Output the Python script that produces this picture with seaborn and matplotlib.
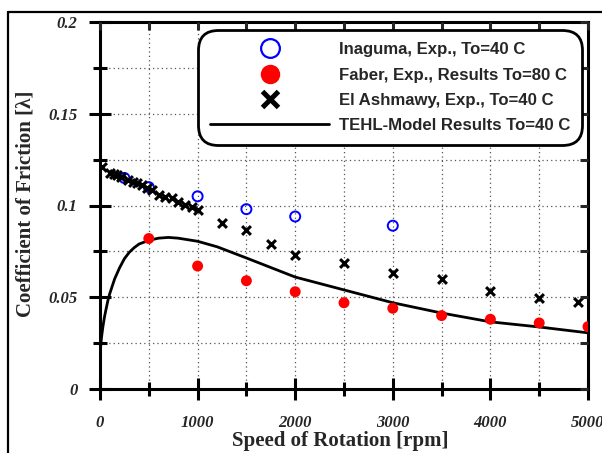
import numpy as np
import pandas as pd
import matplotlib
matplotlib.use("Agg")
import matplotlib.pyplot as plt
from matplotlib.lines import Line2D
import seaborn as sns

# ---- data ----
inaguma_rpm = [250, 500, 1000, 1500, 2000, 3000]
inaguma_cof = [0.115, 0.110, 0.105, 0.098, 0.094, 0.089]

faber_rpm = [500, 1000, 1500, 2000, 2500, 3000, 3500, 4000, 4500, 5000]
faber_cof = [0.082, 0.067, 0.059, 0.053, 0.047, 0.044, 0.040, 0.038, 0.036, 0.034]

ashmawy_rpm = [25, 100, 140, 170, 220, 290, 340, 380, 430, 480, 530, 600, 670,
               740, 800, 870, 940, 1000, 1250, 1500, 1750, 2000, 2500, 3000,
               3500, 4000, 4500, 4900]
ashmawy_cof = [0.121, 0.1175, 0.117, 0.1166, 0.1157, 0.1139, 0.113, 0.112,
               0.111, 0.1097, 0.1084, 0.1057, 0.1048, 0.1039, 0.102, 0.1003,
               0.0994, 0.0978, 0.0905, 0.0865, 0.079, 0.073, 0.0685, 0.063,
               0.0598, 0.0536, 0.0495, 0.0474]

tehl_rpm = [0, 5, 15, 30, 45, 60, 80, 100, 125, 150, 200, 250, 300, 350, 400,
            500, 600, 700, 800, 1000, 1200, 1500, 2000, 2500, 3000, 3500, 4000,
            4500, 5000]
tehl_cof = [0.019, 0.022, 0.028, 0.034, 0.039, 0.043, 0.048, 0.052, 0.056,
            0.060, 0.066, 0.071, 0.0745, 0.077, 0.079, 0.081, 0.0822, 0.0826,
            0.0822, 0.0805, 0.0775, 0.0714, 0.061, 0.054, 0.047, 0.0414,
            0.0366, 0.0338, 0.0306]

labels = ["Inaguma, Exp., To=40 C",
          "Faber, Exp., Results To=80 C",
          "El Ashmawy, Exp., To=40 C",
          "TEHL-Model Results To=40 C"]

x_major = [0, 1000, 2000, 3000, 4000, 5000]
y_major = [0, 0.05, 0.1, 0.15, 0.2]
x_tick_labels = ["0", "1000", "2000", "3000", "4000", "5000"]
y_tick_labels = ["0", "0.05", "0.1", "0.15", "0.2"]

# ---- figure ----
sns.set_style("white")
W, H = 602, 453
fig = plt.figure(figsize=(W / 100, H / 100), dpi=100)
L, R, T, B = 100, 588, 22, 389
ax = fig.add_axes([L / W, 1 - B / H, (R - L) / W, (B - T) / H])

df_in = pd.DataFrame({"rpm": inaguma_rpm, "cof": inaguma_cof})
df_fa = pd.DataFrame({"rpm": faber_rpm, "cof": faber_cof})
df_as = pd.DataFrame({"rpm": ashmawy_rpm, "cof": ashmawy_cof})
df_te = pd.DataFrame({"rpm": tehl_rpm, "cof": tehl_cof})

sns.lineplot(data=df_te, x="rpm", y="cof", ax=ax, color="black", lw=2.0,
             sort=False, estimator=None, zorder=3, legend=False)
sns.scatterplot(data=df_in, x="rpm", y="cof", ax=ax, marker="o", s=52,
                facecolor="none", edgecolor=(0, 0, 1), linewidth=1.4,
                zorder=4, legend=False)
sns.scatterplot(data=df_fa, x="rpm", y="cof", ax=ax, marker="o", s=62,
                color=(1, 0, 0), edgecolor="none", linewidth=0, zorder=4,
                legend=False)
sns.scatterplot(data=df_as, x="rpm", y="cof", ax=ax, marker="x", s=40,
                color="black", linewidth=2.2, zorder=5, legend=False)

ax.set_xlim(0, 5000)
ax.set_ylim(0, 0.2)

serif = ["Liberation Serif", "DejaVu Serif"]
sans = ["Liberation Sans", "DejaVu Sans"]

ax.set_xticks(x_major)
ax.set_xticklabels(x_tick_labels, fontfamily=serif, fontweight="bold",
                   fontstyle="italic", fontsize=12)
ax.set_yticks(y_major)
ax.set_yticklabels(y_tick_labels, fontfamily=serif, fontweight="bold",
                   fontstyle="italic", fontsize=12)
ax.set_xticks(np.arange(500, 5000, 1000), minor=True)
ax.set_yticks(np.arange(0.025, 0.2, 0.05), minor=True)

ax.tick_params(axis="both", which="major", direction="inout", length=16,
               width=2.2, color="black")
ax.tick_params(axis="both", which="minor", direction="inout", length=10,
               width=2.2, color="black")
ax.tick_params(axis="x", which="major", pad=11)
ax.tick_params(axis="y", which="major", pad=8)

for s in ax.spines.values():
    s.set_linewidth(2.2)
    s.set_color("black")

# grid
gkw = dict(color="#555555", linestyle=(0, (1, 2.5)), linewidth=0.9)
ax.grid(True, which="both", axis="both", **gkw)
ax.set_axisbelow(True)

# top / right inward ticks
axt = ax.twiny()
axt.set_xlim(ax.get_xlim())
axt.set_xticks(np.arange(0, 5001, 500))
axt.tick_params(axis="x", direction="in", length=6, width=2.2, labeltop=False)
axr = ax.twinx()
axr.set_ylim(ax.get_ylim())
axr.set_yticks(np.arange(0, 0.2001, 0.025))
axr.tick_params(axis="y", direction="in", length=6, width=2.2, labelright=False)
for a in (axt, axr):
    for s in a.spines.values():
        s.set_visible(False)
    a.grid(False)

ax.set_xlabel("Speed of Rotation [rpm]", fontfamily=serif, fontweight="bold",
              fontsize=15, va="center")
ax.set_ylabel("Coefficient of Friction [λ]", fontfamily=serif,
              fontweight="bold", fontsize=15, va="center")
ax.xaxis.set_label_coords((340 - L) / (R - L), (B - 441) / (B - T))
ax.yaxis.set_label_coords((26 - L) / (R - L), 0.505)

# legend
handles = [
    Line2D([], [], ls="none", marker="o", ms=13.5, mfc="none",
           mec=(0, 0, 1), mew=1.6),
    Line2D([], [], ls="none", marker="o", ms=14, mfc=(1, 0, 0),
           mec=(1, 0, 0), mew=0),
    Line2D([], [], ls="none", marker="x", ms=11, color="black", mew=3.6),
    Line2D([], [], color="black", lw=2.0),
]
leg = axr.legend(handles, labels, loc="upper right",
                 bbox_to_anchor=(582 / W, 1 - 30 / H),
                 bbox_transform=fig.transFigure, borderaxespad=0,
                 prop={"family": sans, "weight": "bold", "size": 12.1},
                 handlelength=7.1, handletextpad=0.55, labelspacing=0.62,
                 borderpad=0.72, frameon=True, fancybox=True, framealpha=1,
                 edgecolor="black")
leg.get_frame().set_linewidth(2.0)
leg.get_frame().set_boxstyle("round", pad=0, rounding_size=1.2)
leg.set_zorder(10)

# outer frame lines (partial border of the original figure)
fig.add_artist(Line2D([8 / W, 8 / W], [0, 1 - 12 / H], color="black",
                      lw=1.6, transform=fig.transFigure))
fig.add_artist(Line2D([8 / W, 1], [1 - 12 / H, 1 - 12 / H], color="black",
                      lw=1.6, transform=fig.transFigure))

fig.savefig("out.png", dpi=100)
